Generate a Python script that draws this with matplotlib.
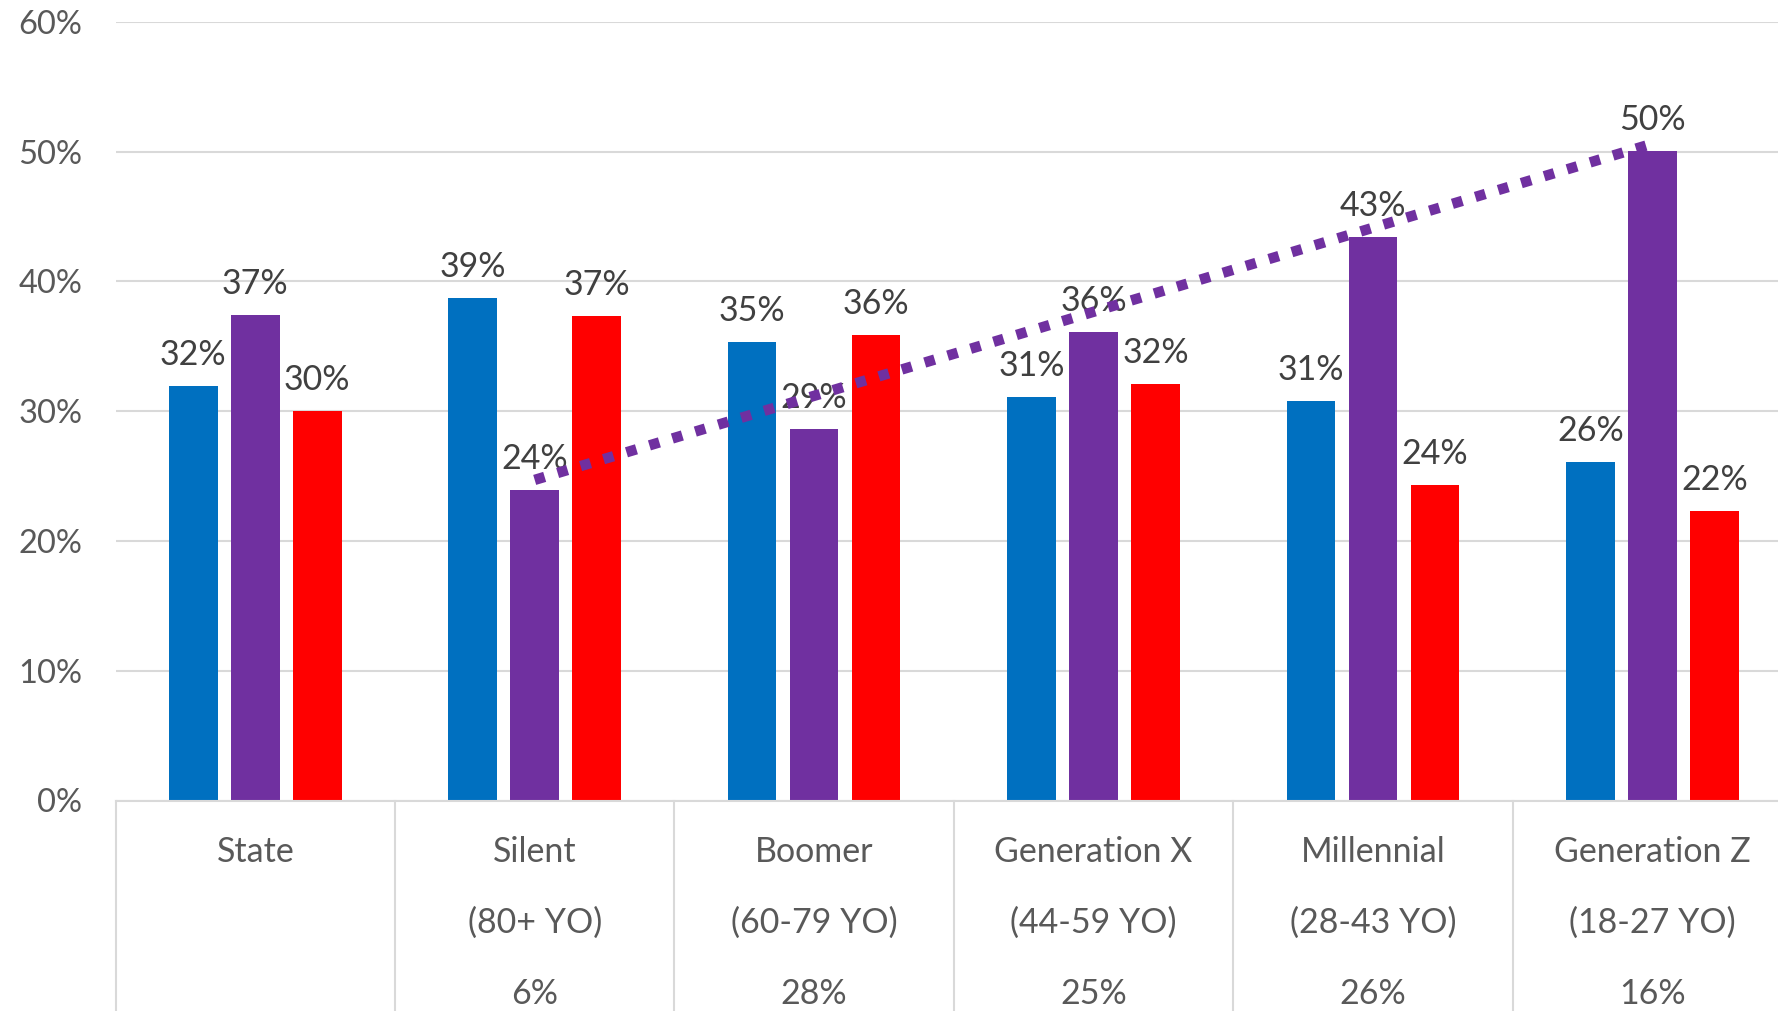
import matplotlib
matplotlib.use("Agg")
import matplotlib.pyplot as plt
import matplotlib.transforms as mtransforms
from matplotlib.ticker import PercentFormatter, MultipleLocator
import numpy as np

plt.rcParams['font.family'] = ['Lato', 'DejaVu Sans']

# ---- data ----
categories = ["State", "Silent", "Boomer", "Generation X", "Millennial", "Generation Z"]
age_ranges = ["", "(80+ YO)", "(60-79 YO)", "(44-59 YO)", "(28-43 YO)", "(18-27 YO)"]
population_share = ["", "6%", "28%", "25%", "26%", "16%"]
series_blue = [31.9, 38.7, 35.3, 31.1, 30.8, 26.1]
series_purple = [37.4, 23.9, 28.6, 36.1, 43.4, 50.05]
series_red = [30.0, 37.35, 35.9, 32.1, 24.3, 22.3]
trend_categories = ["Silent", "Generation Z"]
trend_values = [24.7, 50.6]

# ---- style ----
colors = ["#0070C0", "#7030A0", "#FF0000"]
grid_color = "#D9D9D9"
tick_color = "#595959"
label_color = "#404040"

W, H = 1778, 1011
fig = plt.figure(figsize=(W / 100, H / 100), dpi=100)
ax_left, ax_right = 115.6, 1792.0
y0_px, y60_px = 800.5, 21.7
ax = fig.add_axes([ax_left / W, (H - y0_px) / H,
                   (ax_right - ax_left) / W, (y0_px - y60_px) / H])

x = np.arange(len(categories))
bar_w = 0.174
step = 0.222
all_series = [series_blue, series_purple, series_red]
for i, (vals, c) in enumerate(zip(all_series, colors)):
    xs = x + (i - 1) * step
    ax.bar(xs, vals, width=bar_w, color=c, zorder=2)
    for xi, v in zip(xs, vals):
        ax.annotate(f"{v:.0f}%", xy=(xi, v), xytext=(0, 21), textcoords="offset pixels",
                    ha="center", va="baseline", fontsize=24.5, color=label_color, zorder=3)

# trendline (dotted) on purple series
tx = [categories.index(c) for c in trend_categories]
ax.plot(tx, trend_values, color=colors[1], lw=7.5, linestyle=(0, (1, 1.3)),
        dash_capstyle="butt", zorder=4)

ax.set_xlim(-0.5, len(categories) - 0.5)
ax.set_ylim(0, 60)
ax.yaxis.set_major_locator(MultipleLocator(10))
ax.yaxis.set_major_formatter(PercentFormatter(decimals=0))
ax.grid(axis="y", color=grid_color, lw=1.5, zorder=0)
ax.set_axisbelow(True)
for s in ["top", "right", "left"]:
    ax.spines[s].set_visible(False)
ax.spines["bottom"].set_color(grid_color)
ax.spines["bottom"].set_linewidth(1.5)
ax.tick_params(axis="y", length=0, pad=24, labelsize=23.5, labelcolor=tick_color)
ax.tick_params(axis="x", length=0, labelbottom=False)

# category separators below axis
trans = mtransforms.blended_transform_factory(ax.transData, ax.transAxes)
for b in np.arange(len(categories) + 1) - 0.5:
    ax.plot([b, b], [0, -0.5], transform=trans, color=grid_color, lw=1.5, clip_on=False)

# multi-level category labels
for xi, (c, a, p) in enumerate(zip(categories, age_ranges, population_share)):
    for txt, off in [(c, 61), (a, 132), (p, 203)]:
        if txt:
            ax.annotate(txt, xy=(xi, 0), xycoords=trans, xytext=(0, -off),
                        textcoords="offset pixels", ha="center", va="baseline",
                        fontsize=24.5, color=tick_color, annotation_clip=False)

fig.savefig("out.png", dpi=100)
